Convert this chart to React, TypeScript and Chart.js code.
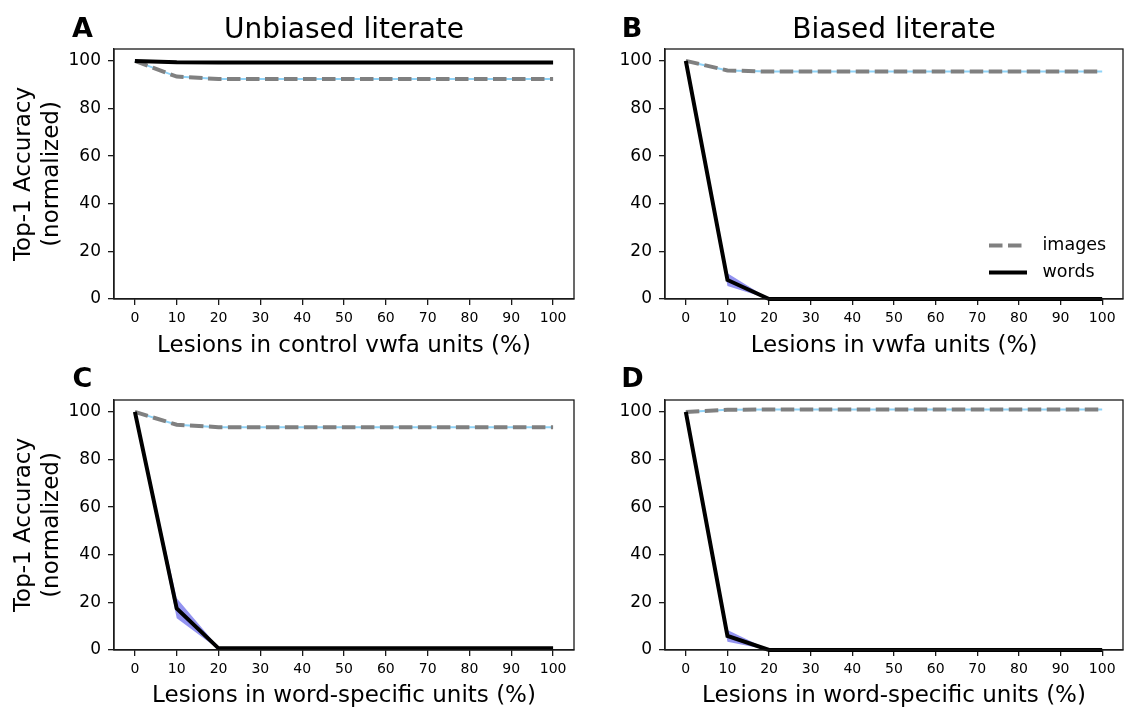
import React, { useEffect, useRef } from "react";
import { Chart, registerables } from "chart.js";

Chart.register(...registerables);

// ---------- data ----------
const lesionPercent = [0, 10, 20, 30, 40, 50, 60, 70, 80, 90, 100];
const xTickValues = [0, 10, 20, 30, 40, 50, 60, 70, 80, 90, 100];
const yTickValues = [0, 20, 40, 60, 80, 100];

// Panel A: Unbiased literate, lesions in control vwfa units
const aImages = [100, 93.4, 92.4, 92.4, 92.4, 92.4, 92.4, 92.4, 92.4, 92.4, 92.4];
const aWords = [100, 99.4, 99.3, 99.3, 99.3, 99.3, 99.3, 99.3, 99.3, 99.3, 99.3];
const aWordsHigh = [100, 99.6, 99.5, 99.5, 99.5, 99.5, 99.5, 99.5, 99.5, 99.5, 99.5];
const aWordsLow = [100, 99.2, 99.1, 99.1, 99.1, 99.1, 99.1, 99.1, 99.1, 99.1, 99.1];

// Panel B: Biased literate, lesions in vwfa units
const bImages = [100, 96.0, 95.5, 95.5, 95.5, 95.5, 95.5, 95.5, 95.5, 95.5, 95.5];
const bWords = [100, 8.0, 0, 0, 0, 0, 0, 0, 0, 0, 0];
const bWordsHigh = [100, 10.8, 0, 0, 0, 0, 0, 0, 0, 0, 0];
const bWordsLow = [100, 5.5, 0, 0, 0, 0, 0, 0, 0, 0, 0];

// Panel C: Unbiased literate, lesions in word-specific units
const cImages = [100, 94.6, 93.6, 93.6, 93.6, 93.6, 93.6, 93.6, 93.6, 93.6, 93.6];
const cWords = [100, 17.4, 0.7, 0.7, 0.7, 0.7, 0.7, 0.7, 0.7, 0.7, 0.7];
const cWordsHigh = [100, 21.7, 1.1, 1.1, 1.1, 1.1, 1.1, 1.1, 1.1, 1.1, 1.1];
const cWordsLow = [100, 13.3, 0.3, 0.3, 0.3, 0.3, 0.3, 0.3, 0.3, 0.3, 0.3];

// Panel D: Biased literate, lesions in word-specific units
const dImages = [100, 100.9, 101, 101, 101, 101, 101, 101, 101, 101, 101];
const dWords = [100, 5.9, 0, 0, 0, 0, 0, 0, 0, 0, 0];
const dWordsHigh = [100, 8.4, 0, 0, 0, 0, 0, 0, 0, 0, 0];
const dWordsLow = [100, 3.5, 0, 0, 0, 0, 0, 0, 0, 0, 0];

const panelLetters = ["A", "B", "C", "D"];
const panelTitles = ["Unbiased literate", "Biased literate", "", ""];
const xAxisLabels = [
  "Lesions in control vwfa units (%)",
  "Lesions in vwfa units (%)",
  "Lesions in word-specific units (%)",
  "Lesions in word-specific units (%)",
];
const yAxisLabelLines = ["Top-1 Accuracy", "(normalized)"];
const legendLabels = ["images", "words"];

// ---------- styles ----------
const FONT = '"DejaVu Sans", "Liberation Sans", sans-serif';
const GRAY = "#808080";
const SKY = "#8fd3f8";
const BAND = "rgba(40,40,225,0.5)";
const SPINE = "#1a1a1a";
const DASH = [13.5, 5.5];

type Spec = {
  idx: number;
  left: number;
  top: number;
  w: number;
  h: number;
  areaLeft: number;
  areaTop: number;
  areaRight: number;
  areaBottom: number;
  letterX: number;
  letterY: number;
  titleY: number;
  xLabelY: number;
  showYLabel: boolean;
  showLegend: boolean;
  images: number[];
  words: number[];
  wordsHigh: number[];
  wordsLow: number[];
};

const specs: Spec[] = [
  {
    idx: 0, left: 0, top: 0, w: 580, h: 356,
    areaLeft: 114, areaTop: 49, areaRight: 574, areaBottom: 299,
    letterX: 82.5, letterY: 37, titleY: 38, xLabelY: 352,
    showYLabel: true, showLegend: false,
    images: aImages, words: aWords, wordsHigh: aWordsHigh, wordsLow: aWordsLow,
  },
  {
    idx: 1, left: 580, top: 0, w: 551, h: 356,
    areaLeft: 85, areaTop: 49, areaRight: 543, areaBottom: 299,
    letterX: 52, letterY: 37, titleY: 38, xLabelY: 352,
    showYLabel: false, showLegend: true,
    images: bImages, words: bWords, wordsHigh: bWordsHigh, wordsLow: bWordsLow,
  },
  {
    idx: 2, left: 0, top: 356, w: 580, h: 357,
    areaLeft: 114, areaTop: 44, areaRight: 574, areaBottom: 294,
    letterX: 82.5, letterY: 31, titleY: 0, xLabelY: 346,
    showYLabel: true, showLegend: false,
    images: cImages, words: cWords, wordsHigh: cWordsHigh, wordsLow: cWordsLow,
  },
  {
    idx: 3, left: 580, top: 356, w: 551, h: 357,
    areaLeft: 85, areaTop: 44, areaRight: 543, areaBottom: 294,
    letterX: 52.5, letterY: 31, titleY: 0, xLabelY: 346,
    showYLabel: false, showLegend: false,
    images: dImages, words: dWords, wordsHigh: dWordsHigh, wordsLow: dWordsLow,
  },
];

const decorPlugin = {
  id: "decor",
  afterDraw(chart: any, _args: any, opts: any) {
    const { ctx, chartArea: a } = chart;
    const spec: Spec = opts.spec;
    ctx.save();
    // full box spines
    ctx.strokeStyle = SPINE;
    ctx.lineWidth = 1.3;
    ctx.setLineDash([]);
    ctx.strokeRect(a.left, a.top, a.right - a.left, a.bottom - a.top);

    ctx.fillStyle = "#000";
    ctx.textBaseline = "alphabetic";
    ctx.textAlign = "center";
    // panel letter
    ctx.font = `bold 27px ${FONT}`;
    ctx.fillText(panelLetters[spec.idx], spec.letterX, spec.letterY);
    // title
    const title = panelTitles[spec.idx];
    if (title) {
      ctx.font = `28px ${FONT}`;
      ctx.fillText(title, (a.left + a.right) / 2, spec.titleY);
    }
    // x label
    ctx.font = `23px ${FONT}`;
    ctx.fillText(xAxisLabels[spec.idx], (a.left + a.right) / 2, spec.xLabelY);
    // y label
    if (spec.showYLabel) {
      const cy = (a.top + a.bottom) / 2;
      const xs = [30, 57.5];
      yAxisLabelLines.forEach((line, i) => {
        ctx.save();
        ctx.translate(xs[i], cy);
        ctx.rotate(-Math.PI / 2);
        ctx.fillText(line, 0, 0);
        ctx.restore();
      });
    }
    // legend
    if (spec.showLegend) {
      const x0 = 409;
      const x1 = 447;
      const rows = [245.5, 272.5];
      ctx.lineWidth = 4;
      ctx.lineCap = "butt";
      ctx.strokeStyle = GRAY;
      ctx.setLineDash(DASH);
      ctx.beginPath();
      ctx.moveTo(x0, rows[0]);
      ctx.lineTo(x1, rows[0]);
      ctx.stroke();
      ctx.setLineDash([]);
      ctx.strokeStyle = "#000";
      ctx.beginPath();
      ctx.moveTo(x0, rows[1]);
      ctx.lineTo(x1, rows[1]);
      ctx.stroke();
      ctx.font = `17.5px ${FONT}`;
      ctx.textAlign = "left";
      ctx.textBaseline = "middle";
      ctx.fillText(legendLabels[0], 462.5, rows[0]);
      ctx.fillText(legendLabels[1], 462.5, rows[1]);
    }
    ctx.restore();
  },
};

function Panel({ spec }: { spec: Spec }) {
  const ref = useRef<HTMLCanvasElement | null>(null);
  useEffect(() => {
    if (!ref.current) return;
    const chart = new Chart(ref.current, {
      type: "line",
      data: {
        labels: lesionPercent,
        datasets: [
          {
            label: "images-band",
            data: lesionPercent.map((x, i) => ({ x, y: spec.images[i] })),
            borderColor: SKY,
            borderWidth: 2,
            pointRadius: 0,
            fill: false,
            order: 4,
            clip: false,
          },
          {
            label: legendLabels[0],
            data: lesionPercent.map((x, i) => ({ x, y: spec.images[i] })),
            borderColor: GRAY,
            borderWidth: 4,
            borderDash: DASH,
            pointRadius: 0,
            fill: false,
            order: 3,
            clip: false,
          },
          {
            label: "words-high",
            data: lesionPercent.map((x, i) => ({ x, y: spec.wordsHigh[i] })),
            borderWidth: 0,
            borderColor: "rgba(0,0,0,0)",
            pointRadius: 0,
            fill: false,
            order: 2,
            clip: false,
          },
          {
            label: "words-low",
            data: lesionPercent.map((x, i) => ({ x, y: spec.wordsLow[i] })),
            borderWidth: 0,
            borderColor: "rgba(0,0,0,0)",
            backgroundColor: BAND,
            pointRadius: 0,
            fill: "-1",
            order: 1,
            clip: false,
          },
          {
            label: legendLabels[1],
            data: lesionPercent.map((x, i) => ({ x, y: spec.words[i] })),
            borderColor: "#000",
            borderWidth: 4,
            pointRadius: 0,
            fill: false,
            order: 0,
            clip: false,
          },
        ],
      } as any,
      options: {
        responsive: false,
        animation: false,
        devicePixelRatio: 1,
        events: [],
        layout: {
          padding: {
            left: 0,
            top: spec.areaTop,
            right: spec.w - spec.areaRight,
            bottom: 0,
          },
        },
        elements: { line: { tension: 0 } },
        plugins: {
          legend: { display: false },
          tooltip: { enabled: false },
          title: { display: false },
          decor: { spec },
        } as any,
        scales: {
          x: {
            type: "linear",
            min: -5,
            max: 105,
            afterBuildTicks: (s: any) => {
              s.ticks = xTickValues.map((v) => ({ value: v }));
            },
            afterFit: (s: any) => {
              s.height = spec.h - spec.areaBottom;
            },
            ticks: {
              color: "#000",
              font: { family: FONT, size: 14 },
              padding: 5,
              maxRotation: 0,
              autoSkip: false,
              callback: (v: any) => String(v),
            },
            grid: {
              drawOnChartArea: false,
              drawTicks: true,
              tickLength: 6,
              color: SPINE,
              lineWidth: 1.3,
            },
            border: { display: true, color: SPINE, width: 1.3 },
          },
          y: {
            type: "linear",
            min: 0,
            max: 105,
            afterBuildTicks: (s: any) => {
              s.ticks = yTickValues.map((v) => ({ value: v }));
            },
            afterFit: (s: any) => {
              s.width = spec.areaLeft;
            },
            ticks: {
              color: "#000",
              font: { family: FONT, size: 17 },
              padding: 7,
              autoSkip: false,
              callback: (v: any) => String(v),
            },
            grid: {
              drawOnChartArea: false,
              drawTicks: true,
              tickLength: 6,
              color: SPINE,
              lineWidth: 1.3,
            },
            border: { display: true, color: SPINE, width: 1.3 },
          },
        } as any,
      },
      plugins: [decorPlugin],
    });
    return () => chart.destroy();
  }, [spec]);
  return (
    <canvas
      ref={ref}
      width={spec.w}
      height={spec.h}
      style={{
        position: "absolute",
        left: spec.left,
        top: spec.top,
        width: spec.w,
        height: spec.h,
      }}
    />
  );
}

export default function App() {
  return (
    <div
      style={{
        position: "absolute",
        left: 0,
        top: 0,
        width: 1131,
        height: 713,
        background: "#fff",
        overflow: "hidden",
      }}
    >
      {specs.map((s) => (
        <Panel key={s.idx} spec={s} />
      ))}
    </div>
  );
}
